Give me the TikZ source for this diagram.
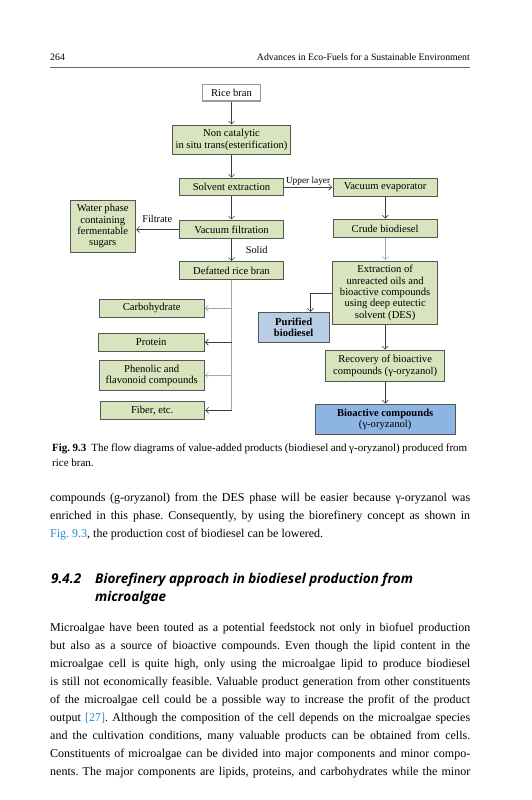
\documentclass[tikz,border=0pt]{standalone}
\usepackage{fontspec}
\setmainfont{Liberation Serif}
\newfontfamily\headingfont{Open Sans}
\usetikzlibrary{positioning,arrows.meta}
\frenchspacing

\definecolor{stagegreen}{RGB}{215,228,189}
\definecolor{purblue}{RGB}{185,205,229}
\definecolor{bioblue}{RGB}{142,180,227}
\definecolor{boxline}{RGB}{85,85,85}
\definecolor{flowdark}{RGB}{60,60,60}
\definecolor{flowlight}{RGB}{165,165,165}
\definecolor{linkblue}{RGB}{35,140,210}

\newcommand{\boxfont}{\fontsize{10.6}{11.4}\selectfont}
\newcommand{\labelfont}{\fontsize{10.3}{11}\selectfont}
\newcommand{\bodyfont}{\fontsize{12}{18}\selectfont}
\newcommand{\capfont}{\fontsize{11}{14.5}\selectfont}
\newcommand{\secfont}{\headingfont\bfseries\itshape\fontsize{13.5}{18}\selectfont}

\begin{document}
\begin{tikzpicture}[
    x=1pt, y=-1pt,
    >={Straight Barb[length=3pt,width=6pt]},
    stage/.style={draw=boxline, fill=stagegreen, line width=0.8pt, inner sep=0pt, align=center, font=\boxfont},
    product/.style={stage, font=\boxfont\bfseries},
    flow/.style={->, draw=flowdark, line width=0.6pt, shorten >=0.5pt},
    faint/.style={flow, draw=flowlight},
    tag/.style={font=\labelfont, inner sep=1pt},
    textline/.style={anchor=base west, inner sep=0pt, font=\bodyfont}
]
\useasboundingbox (0,0) rectangle (531,800);

% running head
\node[anchor=base west, inner sep=0pt, font=\fontsize{9.8}{12}\selectfont] (pageno) at (50,60) {264};
\node[anchor=base east, inner sep=0pt, font=\fontsize{9.8}{12}\selectfont] (runhead) at (470,60) {Advances in Eco-Fuels for a Sustainable Environment};
\draw[line width=0.7pt, black!60] (50,67) -- (470,67);

% left column
\node[stage, fill=white, draw=black!40, line width=1.2pt, minimum width=57.3pt, minimum height=16.7pt] (rice) at (231.5,92.7) {Rice bran};
\node[stage, minimum width=118.7pt, minimum height=29pt, below=23.3pt of rice] (noncat) {Non catalytic\\in situ trans(esterification)};
\node[stage, minimum width=103.4pt, minimum height=17.3pt, below=23.4pt of noncat] (solv) {Solvent extraction};
\node[stage, minimum width=104.6pt, minimum height=18.3pt, below=23.7pt of solv] (vfilt) {Vacuum filtration};
\node[stage, minimum width=104pt, minimum height=17.7pt, below=22.3pt of vfilt] (defat) {Defatted rice bran};
\node[stage, minimum width=65.3pt, minimum height=51.3pt] (water) at (102.7,226.3) {Water phase\\containing\\fermentable\\sugars};

% fractions of the defatted bran
\node[stage, minimum width=104.7pt, minimum height=18.3pt] (carb) at (151.7,308.2) {Carbohydrate};
\node[stage, minimum width=105.7pt, minimum height=17.7pt] (prot) at (151.2,342.2) {Protein};
\node[stage, minimum width=104.7pt, minimum height=29.3pt] (phen) at (151.7,375.3) {Phenolic and\\flavonoid compounds};
\node[stage, minimum width=104.3pt, minimum height=17.3pt] (fiber) at (152.2,410.3) {Fiber, etc.};

% right column
\node[stage, minimum width=104.3pt, minimum height=18.3pt, right=49pt of solv] (vevap) {Vacuum evaporator};
\node[stage, minimum width=104.3pt, minimum height=18.3pt, below=22.4pt of vevap] (crude) {Crude biodiesel};
\node[stage, minimum width=105pt, minimum height=63.7pt, below=22.3pt of crude] (extr) {Extraction of\\unreacted oils and\\bioactive compounds\\using deep eutectic\\solvent (DES)};
\node[stage, minimum width=119.4pt, minimum height=30.7pt, below=25pt of extr] (recov) {Recovery of bioactive\\compounds (γ-oryzanol)};
\node[stage, fill=bioblue, minimum width=140pt, minimum height=30pt, below=22.6pt of recov] (bioact) {\textbf{Bioactive compounds}\\(γ-oryzanol)};
\node[product, fill=purblue, minimum width=70.7pt, minimum height=29.6pt] (purif) at (293.7,327.5) {Purified\\biodiesel};

% connectors
\draw[flow] (rice) -- (noncat);
\draw[flow] (noncat) -- (solv);
\draw[flow] (solv) -- (vfilt);
\draw[flow] (vfilt) -- node[tag, right=13pt] {Solid} (defat);
\draw[flow] (vfilt.west) -- node[tag, above=6pt] {Filtrate} (vfilt.west -| water.east);
\draw[flow] (solv) -- node[tag, above=0.5pt, font=\fontsize{9.3}{10}\selectfont] {Upper layer} (vevap);
\draw[flow] (vevap) -- (crude);
\draw[faint] (crude) -- (extr);
\draw[flow] (extr.west) -| ([xshift=-19pt]purif.north east);
\draw[flow] (extr) -- (recov);
\draw[flow] (recov) -- (bioact);

\draw[flowlight, line width=0.8pt] (defat.south) -- (defat.south |- fiber.east);
\draw[faint] (defat.south |- carb.east) -- (carb.east);
\draw[flow] (defat.south |- prot.east) -- (prot.east);
\draw[faint] (defat.south |- phen.east) -- (phen.east);
\draw[flow] (defat.south |- fiber.east) -- (fiber.east);

% caption
\node[anchor=base west, inner sep=0pt, font=\capfont] (cap1) at (52,451) {\makebox[415pt][s]{\textbf{Fig. 9.3}\hspace{5pt}The flow diagrams of value-added products (biodiesel and γ-oryzanol) produced from}};
\node[anchor=base west, inner sep=0pt, font=\capfont] (cap2) at (52,466) {rice bran.};

% text before the section
\node[textline] (des1) at (50,501) {\makebox[420pt][s]{compounds (g-oryzanol) from the DES phase will be easier because γ-oryzanol was}};
\node[textline] (des2) at (50,519) {\makebox[420pt][s]{enriched in this phase. Consequently, by using the biorefinery concept as shown in}};
\node[textline] (des3) at (50,537) {\textcolor{linkblue}{Fig. 9.3}, the production cost of biodiesel can be lowered.};

% section heading
\node[anchor=base west, inner sep=0pt, font=\secfont] (secno) at (51,583) {9.4.2};
\node[anchor=base west, inner sep=0pt, font=\secfont] (sec1) at (95,583) {Biorefinery approach in biodiesel production from};
\node[anchor=base west, inner sep=0pt, font=\secfont] (sec2) at (95,601) {microalgae};

% body paragraph
\foreach \txt [count=\i] in {
  {Microalgae have been touted as a potential feedstock not only in biofuel production},
  {but also as a source of bioactive compounds. Even though the lipid content in the},
  {microalgae cell is quite high, only using the microalgae lipid to produce biodiesel},
  {is still not economically feasible. Valuable product generation from other constituents},
  {of the microalgae cell could be a possible way to increase the profit of the product},
  {output \textcolor{linkblue}{[27]}. Although the composition of the cell depends on the microalgae species},
  {and the cultivation conditions, many valuable products can be obtained from cells.},
  {Constituents of microalgae can be divided into major components and minor compo-},
  {nents. The major components are lipids, proteins, and carbohydrates while the minor}}
  \node[textline] (algae\i) at (50,613+18*\i) {\makebox[420pt][s]{\txt}};

\end{tikzpicture}
\end{document}
